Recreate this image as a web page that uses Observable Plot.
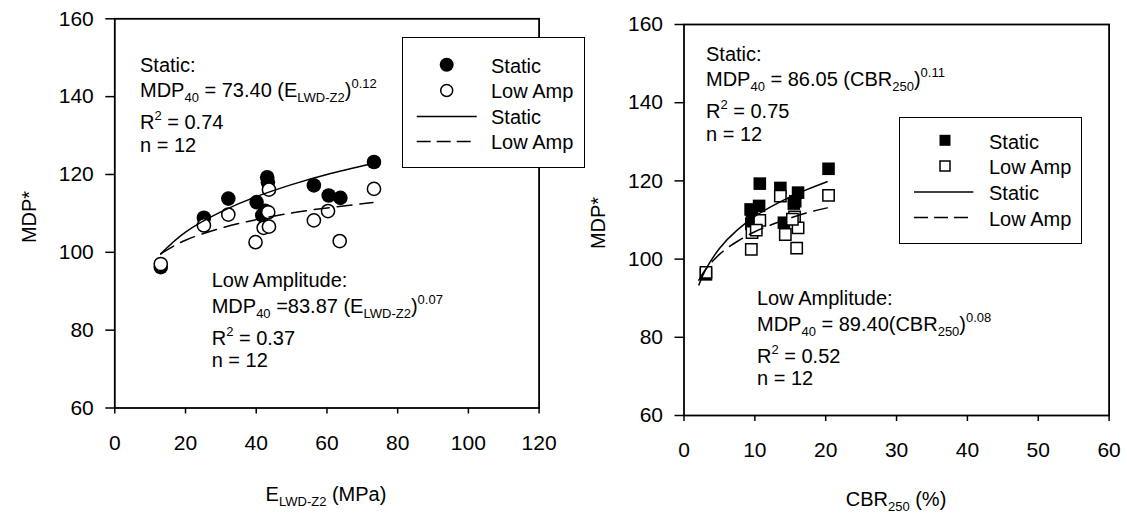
<!DOCTYPE html>
<html><head><meta charset="utf-8">
<script src="https://cdn.jsdelivr.net/npm/d3@7"></script>
<script src="https://cdn.jsdelivr.net/npm/@observablehq/plot@0.6"></script>
<style>
body{margin:0;background:#fff;}
#wrap{position:relative;width:1127px;height:517px;overflow:hidden;font-family:"Liberation Sans",Arial,Helvetica,sans-serif;color:#000;background:#fff;}
#wrap svg.panel{position:absolute;top:0;}
.t{position:absolute;font-size:20px;line-height:20px;white-space:nowrap;z-index:3;}
.t sub,.t sup{font-size:13px;line-height:0;vertical-align:baseline;position:relative;}
.t sub{top:5px;}
.t sup{top:-9px;}
.legend{position:absolute;background:#fff;border:1.5px solid #000;box-sizing:border-box;z-index:2;}
.legend svg{position:absolute;left:0;top:0;overflow:visible;}
</style></head><body><div id="wrap"></div>
<script>
// ---------- data ----------
const xTicksE = [0, 20, 40, 60, 80, 100, 120];
const xTicksCBR = [0, 10, 20, 30, 40, 50, 60];
const yTicks = [60, 80, 100, 120, 140, 160];

// Left panel: E_LWD-Z2 (MPa) vs MDP*
const staticE   = [13, 25.2, 32.1, 40.1, 43.1, 43.3, 42.5, 41.7, 73.3, 56.3, 60.5, 63.8];
const staticMDPe = [96.2, 108.9, 113.8, 112.9, 119.3, 118.0, 110.7, 109.5, 123.2, 117.2, 114.6, 114.0];
const lowE      = [13, 25.2, 32.1, 39.8, 42.1, 43.6, 43.4, 43.6, 73.3, 56.3, 60.3, 63.6];
const lowMDPe   = [97.0, 106.9, 109.7, 102.6, 106.3, 106.6, 110.3, 116.1, 116.3, 108.2, 110.6, 102.9];
// fitted curves
const fitEx        = [13, 20, 30, 40, 50, 60, 73];
const fitStaticEy  = [99.6, 105.2, 110.4, 114.3, 117.4, 120.0, 122.8];
const fitLowEy     = [99.6, 103.1, 106.2, 108.4, 110.1, 111.4, 112.8];

// Right panel: CBR250 (%) vs MDP*
const staticCBR  = [3.1, 10.7, 13.6, 16.1, 15.7, 15.5, 9.4, 10.6, 9.6, 9.5, 14.1, 20.4];
const staticMDPc = [96.1, 119.3, 118.2, 117.0, 114.8, 114.2, 112.7, 113.6, 110.6, 109.0, 109.3, 123.1];
const lowCBR     = [3.1, 13.6, 15.6, 10.7, 16.1, 9.6, 10.2, 14.3, 9.5, 15.9, 20.4, 15.3];
const lowMDPc    = [96.6, 116.1, 110.8, 109.9, 108.0, 106.8, 107.4, 106.3, 102.5, 102.8, 116.3, 110.2];
const fitCx        = [2.1, 3, 5, 7.5, 10, 12.5, 15, 17.5, 20.2];
const fitStaticCy  = [93.4, 97.1, 102.7, 107.4, 110.9, 113.6, 115.9, 117.9, 119.8];
const fitLowCy     = [94.6, 97.2, 101.2, 104.5, 107.0, 108.9, 110.5, 111.9, 113.1];

// ---------- drawing ----------
const wrap = document.getElementById("wrap");
const zip = (xs, ys) => xs.map((x, i) => ({x, y: ys[i]}));
const FONT = "'Liberation Sans', Arial, Helvetica, sans-serif";

function panel({left, width, ml, mr, mt, mb, xdomain, xticks, symbol, rFill, rOpen, st, lo, fs, fl}) {
  const svg = Plot.plot({
    width, height: 517,
    marginLeft: ml, marginRight: mr, marginTop: mt, marginBottom: mb,
    x: {domain: xdomain},
    y: {domain: [60, 160]},
    style: {fontFamily: FONT, fontSize: "21px", color: "#000", background: "transparent", overflow: "visible"},
    marks: [
      Plot.axisX(xticks, {tickSize: 6, tickPadding: 21, fontSize: 21, strokeWidth: 1.5, label: null}),
      Plot.axisY(yTicks, {tickSize: 9, tickPadding: 12, fontSize: 21, strokeWidth: 1.5, label: null}),
      Plot.dot(st, {x: "x", y: "y", r: rFill, symbol, fill: "#000", stroke: "none"}),
      Plot.dot(lo, {x: "x", y: "y", r: rOpen, symbol, fill: "#fff", stroke: "#000", strokeWidth: 1.5}),
      Plot.line(fs, {x: "x", y: "y", curve: "natural", stroke: "#000", strokeWidth: 1.5}),
      Plot.line(fl, {x: "x", y: "y", curve: "natural", stroke: "#000", strokeWidth: 1.5, strokeDasharray: "15,8"}),
      Plot.frame({stroke: "#000", strokeWidth: 1.8})
    ]
  });
  svg.classList.add("panel");
  svg.style.left = left + "px";
  wrap.appendChild(svg);
}

panel({left: 0, width: 563, ml: 114.3, mr: 24.4, mt: 18.3, mb: 109.5,
  xdomain: [0, 120], xticks: xTicksE, symbol: "circle", rFill: 7.3, rOpen: 6.6,
  st: zip(staticE, staticMDPe), lo: zip(lowE, lowMDPe),
  fs: zip(fitEx, fitStaticEy), fl: zip(fitEx, fitLowEy)});

panel({left: 563, width: 564, ml: 120.5, mr: 18.4, mt: 24, mb: 102,
  xdomain: [0, 60], xticks: xTicksCBR, symbol: "square", rFill: 7.1, rOpen: 6.4,
  st: zip(staticCBR, staticMDPc), lo: zip(lowCBR, lowMDPc),
  fs: zip(fitCx, fitStaticCy), fl: zip(fitCx, fitLowCy)});

// ---------- text ----------
function text(html, x, baseline, extra) {
  const d = document.createElement("div");
  d.className = "t";
  d.innerHTML = html;
  d.style.left = x + "px";
  d.style.top = (baseline - 17) + "px";
  if (extra) Object.assign(d.style, extra);
  wrap.appendChild(d);
  return d;
}
const leftStatic = ["Static:", "MDP<sub>40</sub> = 73.40 (E<sub>LWD-Z2</sub>)<sup>0.12</sup>", "R<sup>2</sup> = 0.74", "n = 12"];
const leftLow = ["Low Amplitude:", "MDP<sub>40</sub> =83.87 (E<sub>LWD-Z2</sub>)<sup>0.07</sup>", "R<sup>2</sup> = 0.37", "n = 12"];
const rightStatic = ["Static:", "MDP<sub>40</sub> = 86.05 (CBR<sub>250</sub>)<sup>0.11</sup>", "R<sup>2</sup> = 0.75", "n = 12"];
const rightLow = ["Low Amplitude:", "MDP<sub>40</sub> = 89.40(CBR<sub>250</sub>)<sup>0.08</sup>", "R<sup>2</sup> = 0.52", "n = 12"];
const block = (lines, x, b0) => {
  const offs = [0, 25.5, 57.5, 80];
  lines.forEach((l, i) => text(l, x, b0 + offs[i]));
};
block(leftStatic, 140, 71.7);
block(leftLow, 211.7, 287);
block(rightStatic, 706, 60.7);
block(rightLow, 757, 305);

// axis titles
const xt1 = text("E<sub>LWD-Z2</sub> (MPa)", 326, 501); xt1.style.transform = "translateX(-50%)";
const xt2 = text("CBR<sub>250</sub> (%)", 896, 506); xt2.style.transform = "translateX(-50%)";
function yTitle(cx, cy) {
  const d = document.createElement("div");
  d.className = "t";
  d.textContent = "MDP*";
  d.style.left = cx + "px"; d.style.top = cy + "px";
  d.style.transform = "translate(-50%,-50%) rotate(-90deg)";
  wrap.appendChild(d);
}
yTitle(29, 217);
yTitle(598, 223);

// ---------- legends ----------
const legendLabels = ["Static", "Low Amp", "Static", "Low Amp"];
function legend({x, y, w, h, rows, mx, lx0, lx1, tx, kind}) {
  const box = document.createElement("div");
  box.className = "legend";
  Object.assign(box.style, {left: x + "px", top: y + "px", width: w + "px", height: h + "px"});
  wrap.appendChild(box);
  const g = d3.create("svg").attr("width", w).attr("height", h)
    .style("left", "-1.5px").style("top", "-1.5px");
  const ry = rows.map(r => r - y);
  if (kind === "circle") {
    g.append("circle").attr("cx", mx - x).attr("cy", ry[0]).attr("r", 7).attr("fill", "#000");
    g.append("circle").attr("cx", mx - x).attr("cy", ry[1]).attr("r", 6).attr("fill", "#fff").attr("stroke", "#000").attr("stroke-width", 1.5);
  } else {
    g.append("rect").attr("x", mx - x - 5.5).attr("y", ry[0] - 5.5).attr("width", 11).attr("height", 11).attr("fill", "#000");
    g.append("rect").attr("x", mx - x - 5).attr("y", ry[1] - 5).attr("width", 10).attr("height", 10).attr("fill", "#fff").attr("stroke", "#000").attr("stroke-width", 1.5);
  }
  g.append("line").attr("x1", lx0 - x).attr("x2", lx1 - x).attr("y1", ry[2]).attr("y2", ry[2]).attr("stroke", "#000").attr("stroke-width", 1.5);
  g.append("line").attr("x1", lx0 - x).attr("x2", lx1 - x).attr("y1", ry[3]).attr("y2", ry[3]).attr("stroke", "#000").attr("stroke-width", 1.5).attr("stroke-dasharray", "14,6");
  box.appendChild(g.node());
  legendLabels.forEach((lab, i) => text(lab, tx, rows[i] + 7.5));
}
legend({x: 402, y: 37.3, w: 183, h: 130.5, rows: [65, 90.7, 116.7, 141.7], mx: 446.7, lx0: 416.7, lx1: 476.7, tx: 491, kind: "circle"});
legend({x: 899, y: 116.7, w: 183, h: 127.6, rows: [141, 166.7, 192.7, 218.3], mx: 945, lx0: 914, lx1: 973.3, tx: 989, kind: "square"});
</script>
</body></html>
